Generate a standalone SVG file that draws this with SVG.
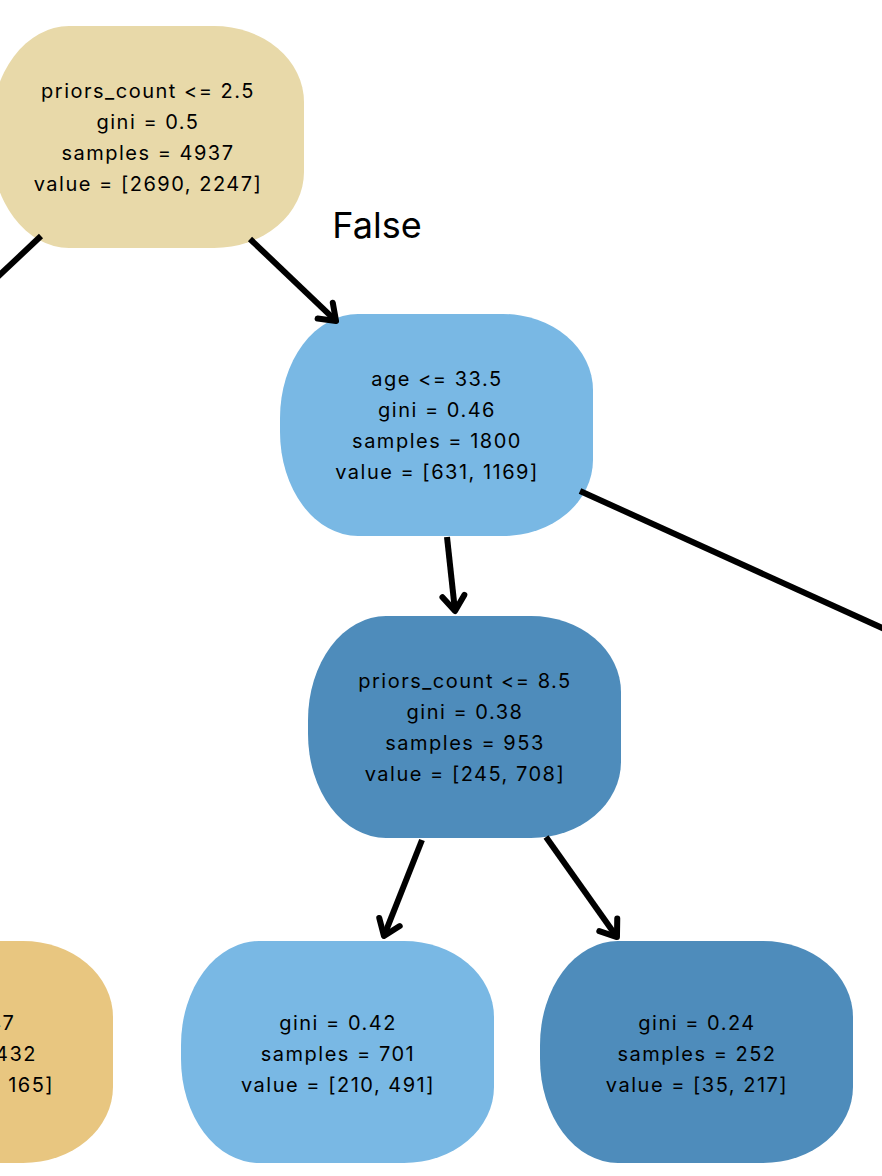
<svg xmlns="http://www.w3.org/2000/svg" width="882" height="1176" viewBox="0 0 882 1176">
<style>
.t{font-family:Inter,"Noto Sans","Liberation Sans",sans-serif;font-size:20px;letter-spacing:1.5px;fill:#000;text-anchor:middle}
.lab{font-family:Inter,"Noto Sans","Liberation Sans",sans-serif;font-size:36px;fill:#000;text-anchor:middle}
.e{fill:none;stroke:#000;stroke-width:6;stroke-linecap:butt}
.tan1{fill:#E8D9A9}.tan2{fill:#E8C680}.lb{fill:#79B8E4}.db{fill:#4E8CBB}
</style>
<defs>
<path id="box" d="M78,0 H223 A90,76 0 0 1 313,76 V146 A90,76 0 0 1 223,222 H78 A78,104 0 0 1 0,118 V104 A78,104 0 0 1 78,0 Z"/>
<marker id="ah" markerUnits="userSpaceOnUse" markerWidth="40" markerHeight="40" viewBox="-20 -20 40 40" refX="-2" refY="0" orient="auto" overflow="visible">
<path d="M-15,-11 L0,0 L-15,11" fill="none" stroke="#000" stroke-width="6" stroke-linecap="round" stroke-linejoin="round"/>
</marker>
</defs>
<g id="n-root" transform="translate(-9,26)">
<use href="#box" class="tan1"/>
<text class="t" x="157" y="72">priors_count &lt;= 2.5</text>
<text class="t" x="157" y="103">gini = 0.5</text>
<text class="t" x="157" y="134">samples = 4937</text>
<text class="t" x="157" y="165">value = [2690, 2247]</text>
</g>
<g id="n-age" transform="translate(280,314)">
<use href="#box" class="lb"/>
<text class="t" x="157" y="72">age &lt;= 33.5</text>
<text class="t" x="157" y="103">gini = 0.46</text>
<text class="t" x="157" y="134">samples = 1800</text>
<text class="t" x="157" y="165">value = [631, 1169]</text>
</g>
<g id="n-prior85" transform="translate(308,616)">
<use href="#box" class="db"/>
<text class="t" x="157" y="72">priors_count &lt;= 8.5</text>
<text class="t" x="157" y="103">gini = 0.38</text>
<text class="t" x="157" y="134">samples = 953</text>
<text class="t" x="157" y="165">value = [245, 708]</text>
</g>
<g id="n-leafL" transform="translate(-200,941)">
<use href="#box" class="tan2"/>
<text class="t" x="157" y="89">gini = 0.47</text>
<text class="t" x="157" y="120">samples = 432</text>
<text class="t" x="157" y="151">value = [267, 165]</text>
</g>
<g id="n-leaf042" transform="translate(181,941)">
<use href="#box" class="lb"/>
<text class="t" x="157" y="89">gini = 0.42</text>
<text class="t" x="157" y="120">samples = 701</text>
<text class="t" x="157" y="151">value = [210, 491]</text>
</g>
<g id="n-leaf024" transform="translate(540,941)">
<use href="#box" class="db"/>
<text class="t" x="157" y="89">gini = 0.24</text>
<text class="t" x="157" y="120">samples = 252</text>
<text class="t" x="157" y="151">value = [35, 217]</text>
</g>
<g id="connectors">
<line class="e" x1="41" y1="236" x2="-30" y2="303"/>
<line class="e" x1="250" y1="239" x2="334.6" y2="319.6" marker-end="url(#ah)"/>
<line class="e" x1="447" y1="537" x2="454.8" y2="609" marker-end="url(#ah)"/>
<line class="e" x1="580" y1="491" x2="900" y2="636"/>
<line class="e" x1="422" y1="840" x2="384.7" y2="934.1" marker-end="url(#ah)"/>
<line class="e" x1="546" y1="837" x2="615.8" y2="935.4" marker-end="url(#ah)"/>
</g>
<text class="lab" x="377" y="238">False</text>
</svg>
